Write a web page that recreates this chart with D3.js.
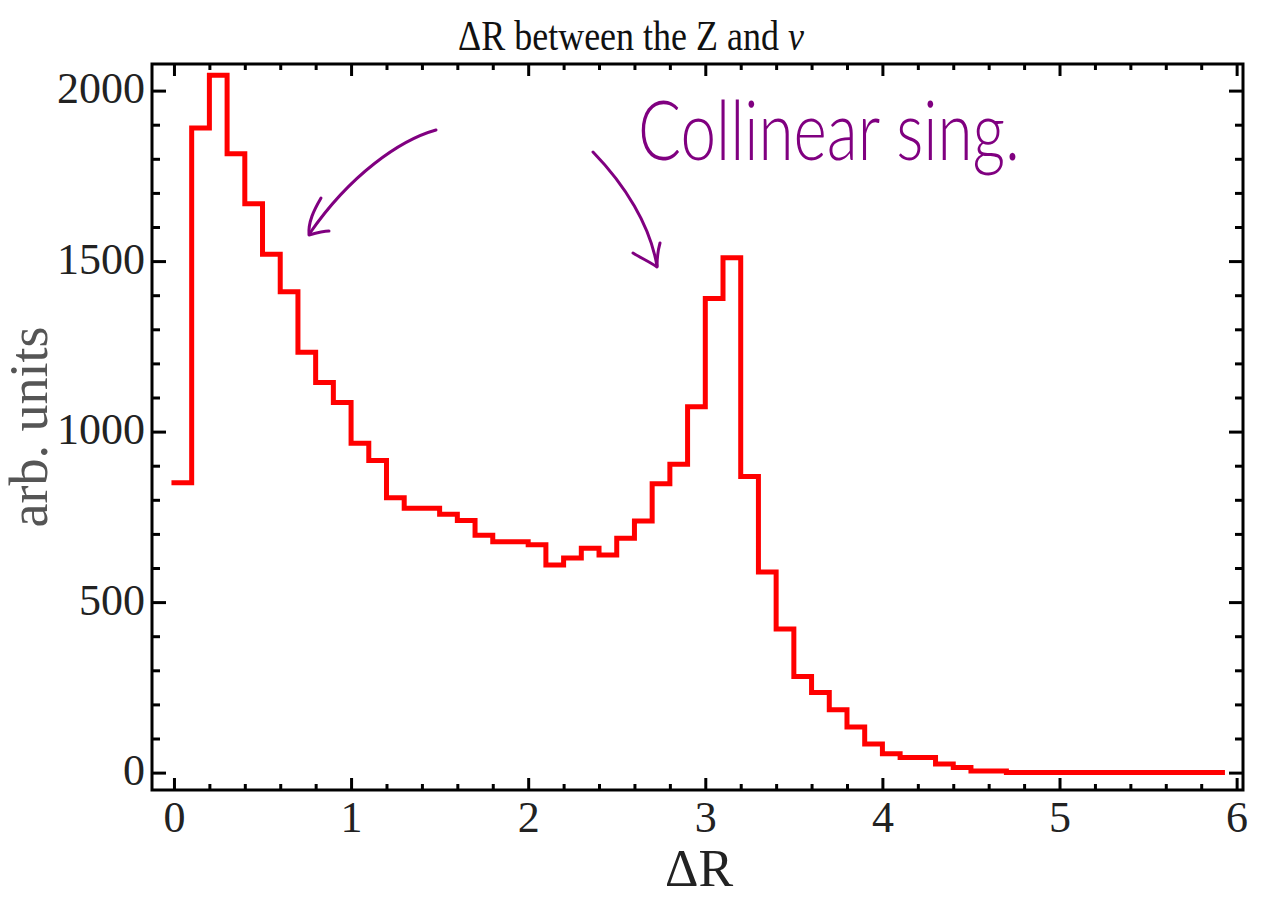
<!DOCTYPE html>
<html>
<head>
<meta charset="utf-8">
<script src="https://cdn.jsdelivr.net/npm/d3@7"></script>
<style>
    body { margin: 0; background: #fff; }
    svg { display: block; }
    .tick-label { font-family: "Liberation Serif", "Times New Roman", serif; fill: #222; }
</style>
</head>
<body>
<svg id="chart"></svg>
<script>
// histogram of Delta R, bins of width 0.1 starting at 0
const binWidth = 0.1;
const counts = [
    850, 1890, 2045, 1815, 1668, 1520, 1410, 1233, 1144, 1085,
    966, 915, 806, 775, 775, 758, 739, 696, 677, 677,
    668, 609, 629, 658, 638, 687, 738, 847, 904, 1073,
    1390, 1510, 868, 588, 421, 282, 235, 184, 134, 84,
    55, 44, 44, 25, 15, 5, 5, 0, 0, 0,
    0, 0, 0, 0, 0, 0, 0, 0, 0
];
const lastEdge = 5.92;

const xTicks = [0, 1, 2, 3, 4, 5, 6];
const yTicks = [0, 500, 1000, 1500, 2000];
const xMinor = [0.2, 0.4, 0.6, 0.8, 1.2, 1.4, 1.6, 1.8, 2.2, 2.4, 2.6, 2.8, 3.2, 3.4, 3.6, 3.8, 4.2, 4.4, 4.6, 4.8, 5.2, 5.4, 5.6, 5.8];
const yMinor = [100, 200, 300, 400, 600, 700, 800, 900, 1100, 1200, 1300, 1400, 1600, 1700, 1800, 1900];

const titleText = "ΔR between the Z and ";
const xLabel = "ΔR";
const yLabel = "arb. units";
const noteText = "Collinear sing.";

const width = 1262;
const height = 899;
const frame = { left: 152, right: 1243, top: 64, bottom: 790 };

const svg = d3.select('#chart')
    .attr('width', width)
    .attr('height', height);

const xScale = d3.scaleLinear()
    .domain([-0.124, 6.036])
    .range([frame.left, frame.right]);

const yScale = d3.scaleLinear()
    .domain([-51, 2078])
    .range([frame.bottom, frame.top]);

//ticks, all pointing inward
function styleTicks(g, labels) {
    g.select('.domain').remove();
    g.selectAll('.tick line').attr('stroke', '#000').attr('stroke-width', 3);
    if (!labels) g.selectAll('.tick text').remove();
}

svg.append('g')
    .attr('transform', `translate(0, ${frame.bottom})`)
    .call(d3.axisBottom(xScale).tickValues(xTicks).tickSize(-12).tickPadding(11).tickFormat(d3.format('d')))
    .call(g => styleTicks(g, true))
    .call(g => g.selectAll('text').attr('class', 'tick-label').attr('font-size', 44).attr('fill', null));

svg.append('g')
    .attr('transform', `translate(0, ${frame.bottom})`)
    .call(d3.axisBottom(xScale).tickValues(xMinor).tickSize(-6))
    .call(g => styleTicks(g, false));

svg.append('g')
    .attr('transform', `translate(0, ${frame.top})`)
    .call(d3.axisTop(xScale).tickValues(xTicks).tickSize(-12))
    .call(g => styleTicks(g, false));

svg.append('g')
    .attr('transform', `translate(0, ${frame.top})`)
    .call(d3.axisTop(xScale).tickValues(xMinor).tickSize(-6))
    .call(g => styleTicks(g, false));

svg.append('g')
    .attr('transform', `translate(${frame.left}, 0)`)
    .call(d3.axisLeft(yScale).tickValues(yTicks).tickSize(-14).tickPadding(7).tickFormat(d3.format('d')))
    .call(g => styleTicks(g, true))
    .call(g => g.selectAll('text').attr('class', 'tick-label').attr('font-size', 44).attr('fill', null).attr('dy', '0.28em'));

svg.append('g')
    .attr('transform', `translate(${frame.left}, 0)`)
    .call(d3.axisLeft(yScale).tickValues(yMinor).tickSize(-8))
    .call(g => styleTicks(g, false));

svg.append('g')
    .attr('transform', `translate(${frame.right}, 0)`)
    .call(d3.axisRight(yScale).tickValues(yTicks).tickSize(-14))
    .call(g => styleTicks(g, false));

svg.append('g')
    .attr('transform', `translate(${frame.right}, 0)`)
    .call(d3.axisRight(yScale).tickValues(yMinor).tickSize(-8))
    .call(g => styleTicks(g, false));

//frame
svg.append('rect')
    .attr('x', frame.left)
    .attr('y', frame.top)
    .attr('width', frame.right - frame.left)
    .attr('height', frame.bottom - frame.top)
    .attr('fill', 'none')
    .attr('stroke', '#000')
    .attr('stroke-width', 3);

//step histogram
const points = counts.map((c, i) => [i * binWidth, c]);
points.push([lastEdge, counts[counts.length - 1]]);

svg.append('path')
    .datum(points)
    .attr('fill', 'none')
    .attr('stroke', '#ff0000')
    .attr('stroke-width', 5)
    .attr('stroke-linecap', 'square')
    .attr('stroke-linejoin', 'miter')
    .attr('d', d3.line()
        .curve(d3.curveStepAfter)
        .x(d => xScale(d[0]))
        .y(d => yScale(d[1]))
    );

//title, slightly condensed look like the original
const title = svg.append('text')
    .attr('transform', 'translate(631, 50) scale(1, 1.2)')
    .attr('text-anchor', 'middle')
    .attr('font-family', '"Liberation Serif", "Times New Roman", serif')
    .attr('font-size', 36)
    .attr('fill', '#111');
title.append('tspan').text(titleText);
title.append('tspan').attr('font-style', 'italic').text('ν');

//axis labels
svg.append('text')
    .attr('x', 699)
    .attr('y', 886)
    .attr('text-anchor', 'middle')
    .attr('font-family', '"Liberation Serif", "Times New Roman", serif')
    .attr('font-size', 52)
    .attr('fill', '#222')
    .text(xLabel);

svg.append('text')
    .attr('transform', 'translate(47, 427) rotate(-90)')
    .attr('text-anchor', 'middle')
    .attr('font-family', '"Liberation Serif", "Times New Roman", serif')
    .attr('font-size', 54)
    .attr('fill', '#555')
    .text(yLabel);

//handwritten note
const purple = '#800080';
svg.append('text')
    .attr('transform', 'translate(638, 160) scale(1, 1.15)')
    .attr('font-family', 'Lato, "Open Sans", sans-serif')
    .attr('font-weight', 300)
    .attr('font-size', 72)
    .attr('textLength', 382)
    .attr('lengthAdjust', 'spacingAndGlyphs')
    .attr('fill', purple)
    .text(noteText);

const arrows = [
    { body: 'M436,130 C400,140 350,175 310,233', head: 'M321,198 C314,210 308,222 309,235 C316,233 323,231 329,231' },
    { body: 'M593,152 C625,185 650,225 657,266', head: 'M633,253 C641,258 650,262 657,267 C657,258 658,250 660,243' }
];
arrows.forEach(a => {
    svg.append('path').attr('d', a.body).attr('fill', 'none').attr('stroke', purple)
        .attr('stroke-width', 3).attr('stroke-linecap', 'round');
    svg.append('path').attr('d', a.head).attr('fill', 'none').attr('stroke', purple)
        .attr('stroke-width', 3).attr('stroke-linecap', 'round').attr('stroke-linejoin', 'round');
});
</script>
</body>
</html>
